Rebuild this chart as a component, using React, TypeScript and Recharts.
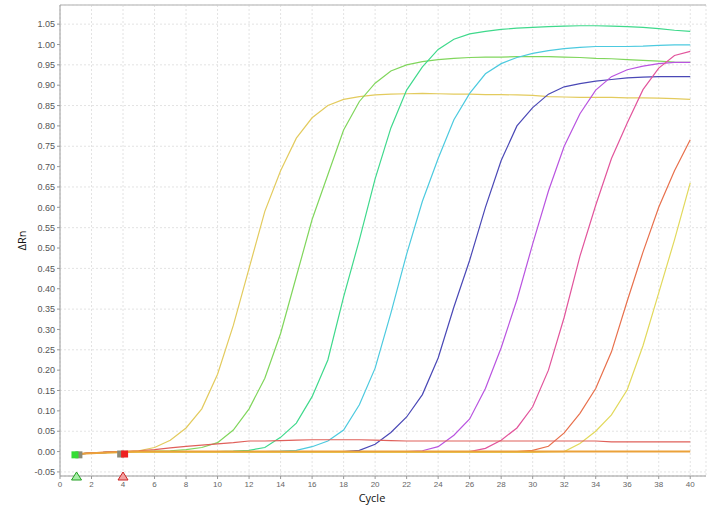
import { LineChart, Line, XAxis, YAxis, CartesianGrid, ReferenceDot, ReferenceLine } from "recharts"

// Amplification plot: delta Rn per cycle for each well

const cycles = [1, 2, 3, 4, 5, 6, 7, 8, 9, 10, 11, 12, 13, 14, 15, 16, 17, 18, 19, 20, 21, 22, 23, 24, 25, 26, 27, 28, 29, 30, 31, 32, 33, 34, 35, 36, 37, 38, 39, 40]

const xTicks = [0, 2, 4, 6, 8, 10, 12, 14, 16, 18, 20, 22, 24, 26, 28, 30, 32, 34, 36, 38, 40]
const yTicks = [-0.05, 0, 0.05, 0.1, 0.15, 0.2, 0.25, 0.3, 0.35, 0.4, 0.45, 0.5, 0.55, 0.6, 0.65, 0.7, 0.75, 0.8, 0.85, 0.9, 0.95, 1.0, 1.05]

const yellowEarly = [
  -0.006, -0.004, -0.002, 0.0, 0.002, 0.01, 0.028, 0.058, 0.105, 0.19,
  0.31, 0.45, 0.59, 0.69, 0.77, 0.82, 0.85, 0.865, 0.872, 0.876,
  0.878, 0.879, 0.88, 0.879, 0.878, 0.878, 0.877, 0.877, 0.876, 0.875,
  0.872, 0.871, 0.87, 0.87, 0.87, 0.869, 0.869, 0.868, 0.867, 0.865,
]
const green = [
  -0.006, -0.004, -0.002, -0.001, 0.0, 0.001, 0.002, 0.005, 0.01, 0.022,
  0.053, 0.105, 0.18, 0.29, 0.43, 0.57, 0.68, 0.79, 0.86, 0.905,
  0.935, 0.95, 0.958, 0.963, 0.966, 0.968, 0.969, 0.969, 0.97, 0.97,
  0.97, 0.969, 0.968, 0.966, 0.965, 0.963, 0.961, 0.959, 0.957, 0.956,
]
const teal = [
  -0.006, -0.004, -0.002, -0.001, 0.0, 0.0, 0.0, 0.0, 0.0, 0.0,
  0.001, 0.003, 0.01, 0.035, 0.07, 0.135, 0.225, 0.38, 0.52, 0.67,
  0.795, 0.888, 0.945, 0.988, 1.013, 1.026, 1.032, 1.037, 1.04, 1.042,
  1.044, 1.045, 1.046, 1.046, 1.045, 1.044, 1.042, 1.039, 1.035, 1.032,
]
const cyan = [
  -0.006, -0.004, -0.002, -0.001, 0.0, 0.0, 0.0, 0.0, 0.0, 0.0,
  0.0, 0.0, 0.0, 0.001, 0.003, 0.012, 0.026, 0.053, 0.115, 0.205,
  0.34, 0.485, 0.615, 0.72, 0.815, 0.88, 0.928, 0.953, 0.968, 0.978,
  0.985, 0.99, 0.993, 0.995, 0.995, 0.995, 0.996, 0.998, 0.999, 0.999,
]
const blue = [
  -0.006, -0.004, -0.002, -0.001, 0.0, 0.0, 0.0, 0.0, 0.0, 0.0,
  0.0, 0.0, 0.0, 0.0, 0.0, 0.0, 0.0, 0.0, 0.003, 0.018,
  0.047, 0.085, 0.14, 0.23, 0.355, 0.47, 0.6, 0.715, 0.8, 0.845,
  0.878, 0.896, 0.904, 0.91, 0.914, 0.918, 0.92, 0.921, 0.921, 0.921,
]
const purple = [
  -0.006, -0.004, -0.002, -0.001, 0.0, 0.0, 0.0, 0.0, 0.0, 0.0,
  0.0, 0.0, 0.0, 0.0, 0.0, 0.0, 0.0, 0.0, 0.0, 0.0,
  0.0, 0.0, 0.002, 0.012, 0.04, 0.08, 0.155, 0.255, 0.373, 0.51,
  0.64, 0.75, 0.83, 0.888, 0.921, 0.938, 0.947, 0.953, 0.956, 0.956,
]
const pink = [
  -0.006, -0.004, -0.002, -0.001, 0.0, 0.0, 0.0, 0.0, 0.0, 0.0,
  0.0, 0.0, 0.0, 0.0, 0.0, 0.0, 0.0, 0.0, 0.0, 0.0,
  0.0, 0.0, 0.0, 0.0, 0.0, 0.0, 0.008, 0.028, 0.058, 0.11,
  0.2, 0.33, 0.48, 0.605, 0.72, 0.807, 0.889, 0.942, 0.973, 0.983,
]
const orangeRed = [
  -0.006, -0.004, -0.002, -0.001, 0.0, 0.0, 0.0, 0.0, 0.0, 0.0,
  0.0, 0.0, 0.0, 0.0, 0.0, 0.0, 0.0, 0.0, 0.0, 0.0,
  0.0, 0.0, 0.0, 0.0, 0.0, 0.0, 0.0, 0.0, 0.0, 0.003,
  0.013, 0.046, 0.094, 0.155, 0.245, 0.37, 0.49, 0.6, 0.69, 0.766,
]
const yellowLate = [
  -0.006, -0.004, -0.003, -0.002, -0.002, -0.002, -0.002, -0.002, -0.002, -0.002,
  -0.002, -0.002, -0.002, -0.002, -0.002, -0.002, -0.002, -0.002, -0.002, -0.002,
  -0.002, -0.002, -0.002, -0.002, -0.002, -0.002, -0.002, -0.002, -0.002, -0.002,
  -0.001, 0.0, 0.02, 0.05, 0.09, 0.152, 0.26, 0.39, 0.52, 0.66,
]
const red = [
  -0.006, -0.003, -0.001, 0.0, 0.002, 0.005, 0.009, 0.013, 0.016, 0.019,
  0.022, 0.026, 0.026, 0.027, 0.028, 0.029, 0.029, 0.029, 0.029, 0.028,
  0.027, 0.026, 0.026, 0.026, 0.026, 0.026, 0.026, 0.026, 0.026, 0.026,
  0.026, 0.026, 0.026, 0.026, 0.024, 0.024, 0.024, 0.024, 0.024, 0.024,
]
const orangeFlat = [
  -0.006, -0.004, -0.002, -0.001, 0.0, 0.0, 0.0, 0.0, 0.0, 0.0,
  0.0, 0.0, 0.0, 0.0, 0.0, 0.0, 0.0, 0.0, 0.0, 0.0,
  0.0, 0.0, 0.0, 0.0, 0.0, 0.0, 0.0, 0.0, 0.0, 0.0,
  0.0, 0.0, 0.0, 0.0, 0.0, 0.0, 0.0, 0.0, 0.0, 0.0,
]

const series = [
  { key: "w1", color: "#e3cb5e", width: 1.2, values: yellowEarly },
  { key: "w2", color: "#80d65c", width: 1.2, values: green },
  { key: "w3", color: "#3fd98c", width: 1.2, values: teal },
  { key: "w4", color: "#4ccadf", width: 1.2, values: cyan },
  { key: "w5", color: "#4a48b6", width: 1.2, values: blue },
  { key: "w6", color: "#b954e0", width: 1.2, values: purple },
  { key: "w7", color: "#e2559c", width: 1.2, values: pink },
  { key: "w8", color: "#e8704c", width: 1.2, values: orangeRed },
  { key: "w9", color: "#e2d95c", width: 1.2, values: yellowLate },
  { key: "w10", color: "#e0605a", width: 1.2, values: red },
  { key: "w11", color: "#eba13a", width: 2, values: orangeFlat },
]

const Y_MIN = -0.06
const Y_MAX = 1.097

const chartData = cycles.map((cycle, i) => {
  const row: Record<string, number> = { cycle }
  series.forEach((s) => {
    row[s.key] = s.values[i]
  })
  return row
})

const square = (fill: string) => (p: any) => (
  <rect x={p.cx - 3.5} y={p.cy - 3.5} width={7} height={7} fill={fill} />
)

const triangle = (fill: string, stroke: string) => (p: any) => (
  <polygon
    points={`${p.cx},${p.cy - 4} ${p.cx - 5},${p.cy + 4} ${p.cx + 5},${p.cy + 4}`}
    fill={fill}
    stroke={stroke}
    strokeWidth={1}
  />
)

export default function App() {
  return (
    <div style={{ position: "absolute", left: 0, top: 0, background: "#fff" }}>
      <LineChart width={710} height={513} data={chartData} margin={{ top: 5, right: 4, bottom: 7, left: 10 }}>
        <CartesianGrid strokeDasharray="2 2" stroke="#e3e3e3" />
        <XAxis
          dataKey="cycle"
          type="number"
          domain={[0, 41]}
          ticks={xTicks}
          allowDataOverflow
          height={30}
          stroke="#9a9a9a"
          tickSize={3}
          tick={{ fontSize: 8, fill: "#666", fontFamily: "Liberation Sans" }}
          label={{ value: "Cycle", position: "insideBottom", offset: 4, dx: -11, fontSize: 11, fill: "#111", fontFamily: "Open Sans" }}
        />
        <YAxis
          type="number"
          domain={[Y_MIN, Y_MAX]}
          ticks={yTicks}
          allowDataOverflow
          width={50}
          stroke="#9a9a9a"
          tickSize={3}
          tickFormatter={(v: number) => v.toFixed(2)}
          tick={{ fontSize: 9, fill: "#555", fontFamily: "Liberation Sans" }}
          label={{ value: "ΔRn", angle: -90, position: "center", dx: -13, fontSize: 11, fill: "#111", fontFamily: "Open Sans" }}
        />
        <ReferenceLine y={Y_MAX} stroke="#c8c8c8" strokeWidth={1.5} />
        {series.map((s) => (
          <Line
            key={s.key}
            type="linear"
            dataKey={s.key}
            stroke={s.color}
            strokeWidth={s.width}
            dot={false}
            activeDot={false}
            isAnimationActive={false}
          />
        ))}
        <ReferenceDot x={1.2} y={-0.008} ifOverflow="visible" shape={square("#8b8a78")} />
        <ReferenceDot x={0.95} y={-0.008} ifOverflow="visible" shape={square("#35dd35")} />
        <ReferenceDot x={3.85} y={-0.006} ifOverflow="visible" shape={square("#8b8a78")} />
        <ReferenceDot x={4.1} y={-0.006} ifOverflow="visible" shape={square("#ee2020")} />
        <ReferenceDot x={1.05} y={Y_MIN} ifOverflow="visible" shape={triangle("#a8eea8", "#22a022")} />
        <ReferenceDot x={4.0} y={Y_MIN} ifOverflow="visible" shape={triangle("#f2a0a0", "#cc2222")} />
      </LineChart>
    </div>
  )
}
